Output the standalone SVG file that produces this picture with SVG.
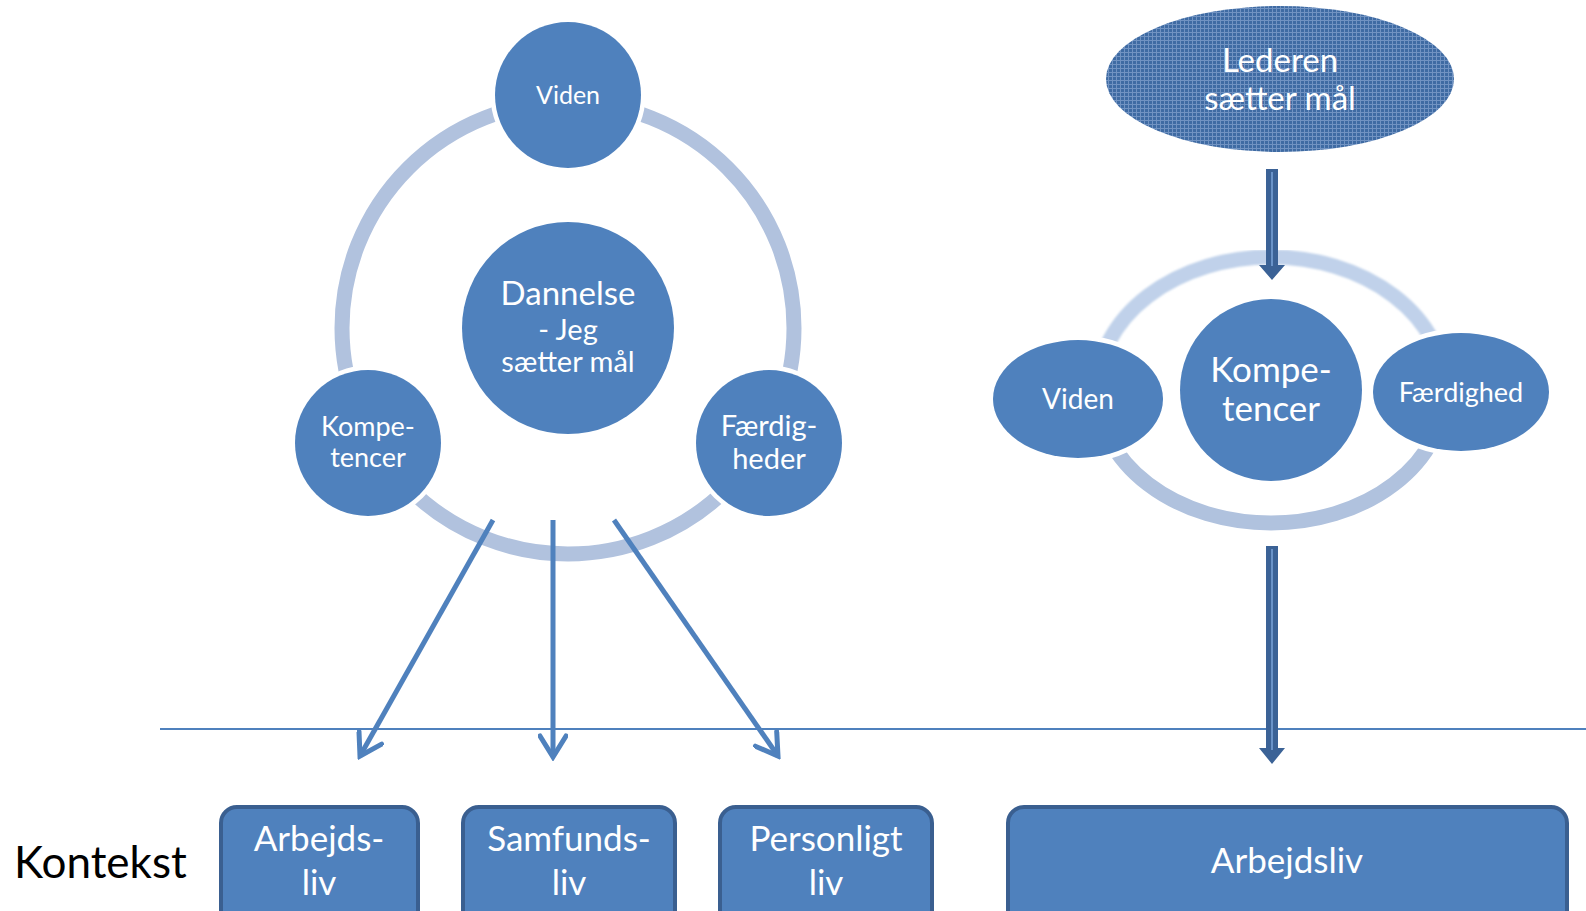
<svg xmlns="http://www.w3.org/2000/svg" width="1586" height="911" viewBox="0 0 1586 911">
<defs>
<style>
.node{fill:#4F81BD;}
.gap{stroke:#FFFFFF;stroke-width:9;paint-order:stroke;}
.t{font-family:"Lato","Open Sans","Liberation Sans",sans-serif;fill:#FFFFFF;text-anchor:middle;}
.ring{fill:none;stroke:#B1C2DE;stroke-width:15;}
.box{fill:#4F81BD;stroke:#3A5F90;stroke-width:4;}
.conn{stroke:#4F81BD;stroke-width:5;fill:none;marker-end:url(#vhead);}
.blk{fill:#3B6296;}
.blkc{stroke:#6A93C8;stroke-width:2;}
</style>
<marker id="vhead" markerUnits="userSpaceOnUse" viewBox="0 0 30 30" markerWidth="30" markerHeight="30" refX="26" refY="15" orient="auto">
<path d="M5,2 L26,15 L5,28" fill="none" stroke="#4F81BD" stroke-width="5" stroke-linecap="round" stroke-linejoin="miter"/>
</marker>
<pattern id="chk" patternUnits="userSpaceOnUse" width="4" height="4">
<rect width="4" height="4" fill="#3F6BA3"/>
<rect x="0" y="0" width="4" height="1" fill="#7193C2"/>
<rect x="0" y="0" width="1" height="4" fill="#7193C2"/>
</pattern>
<filter id="soft" x="-5%" y="-5%" width="110%" height="110%">
<feGaussianBlur stdDeviation="0.9"/>
</filter>
</defs>
<rect width="1586" height="911" fill="#FFFFFF"/>

<!-- rings -->
<circle class="ring" cx="568" cy="328" r="226"/>
<path d="M1097,390 A174,133 0 0 1 1445,390" fill="none" stroke="#C0D1EA" stroke-width="15" filter="url(#soft)"/>
<path d="M1097,390 A174,133 0 0 0 1445,390" fill="none" stroke="#B0C2DE" stroke-width="15"/>

<!-- baseline -->
<line x1="160" y1="729" x2="1586" y2="729" stroke="#4F81BD" stroke-width="2"/>

<g id="connectors">
<line class="conn" x1="493" y1="520" x2="360" y2="756"/>
<line class="conn" x1="553" y1="520" x2="553" y2="757"/>
<line class="conn" x1="614" y1="520" x2="778" y2="756"/>
<polygon class="blk" points="1266,169 1278,169 1278,265 1285,265 1272,280 1259,265 1266,265"/>
<line class="blkc" x1="1272" y1="172" x2="1272" y2="266"/>
<polygon class="blk" points="1266,546 1278,546 1278,748 1285,748 1272,764 1259,748 1266,748"/>
<line class="blkc" x1="1272" y1="549" x2="1272" y2="750"/>
</g>

<g id="viden-left">
<circle class="node gap" cx="568" cy="95" r="73"/>
<text class="t" x="568" y="104" font-size="25">Viden</text>
</g>
<g id="dannelse">
<circle class="node" cx="568" cy="328" r="106"/>
<text class="t" x="568" y="305" font-size="33">Dannelse</text>
<text class="t" x="568" y="340" font-size="29">- Jeg</text>
<text class="t" x="568" y="372" font-size="29">sætter mål</text>
</g>
<g id="kompetencer-left">
<circle class="node gap" cx="368" cy="443" r="73"/>
<text class="t" x="368" y="436" font-size="27">Kompe-</text>
<text class="t" x="368" y="467" font-size="27">tencer</text>
</g>
<g id="faerdigheder">
<circle class="node gap" cx="769" cy="443" r="73"/>
<text class="t" x="769" y="436" font-size="29">Færdig-</text>
<text class="t" x="769" y="469" font-size="29">heder</text>
</g>

<g id="lederen">
<ellipse cx="1280" cy="79" rx="174" ry="73" fill="url(#chk)"/>
<text class="t" x="1280" y="72" font-size="33">Lederen</text>
<text class="t" x="1280" y="110" font-size="33">sætter mål</text>
</g>
<g id="viden-right">
<ellipse class="node gap" cx="1078" cy="399" rx="85" ry="59"/>
<text class="t" x="1078" y="409" font-size="28">Viden</text>
</g>
<g id="kompetencer-right">
<circle class="node gap" cx="1271" cy="390" r="91"/>
<text class="t" x="1271" y="382" font-size="35">Kompe-</text>
<text class="t" x="1271" y="421" font-size="35">tencer</text>
</g>
<g id="faerdighed">
<ellipse class="node gap" cx="1461" cy="392" rx="88" ry="59"/>
<text class="t" x="1461" y="402" font-size="27">Færdighed</text>
</g>

<g id="kontekst">
<text x="14" y="878" font-size="44" font-family="Lato,'Open Sans','Liberation Sans',sans-serif" fill="#000000">Kontekst</text>
</g>
<g id="arbejds-liv">
<rect class="box" x="221" y="807" width="197" height="130" rx="16"/>
<text class="t" x="319" y="851" font-size="35">Arbejds-</text>
<text class="t" x="319" y="895" font-size="35">liv</text>
</g>
<g id="samfunds-liv">
<rect class="box" x="463" y="807" width="212" height="130" rx="16"/>
<text class="t" x="569" y="851" font-size="35">Samfunds-</text>
<text class="t" x="569" y="895" font-size="35">liv</text>
</g>
<g id="personligt-liv">
<rect class="box" x="720" y="807" width="212" height="130" rx="16"/>
<text class="t" x="826" y="851" font-size="35">Personligt</text>
<text class="t" x="826" y="895" font-size="35">liv</text>
</g>
<g id="arbejdsliv">
<rect class="box" x="1008" y="807" width="559" height="130" rx="16"/>
<text class="t" x="1287" y="873" font-size="35">Arbejdsliv</text>
</g>
</svg>
